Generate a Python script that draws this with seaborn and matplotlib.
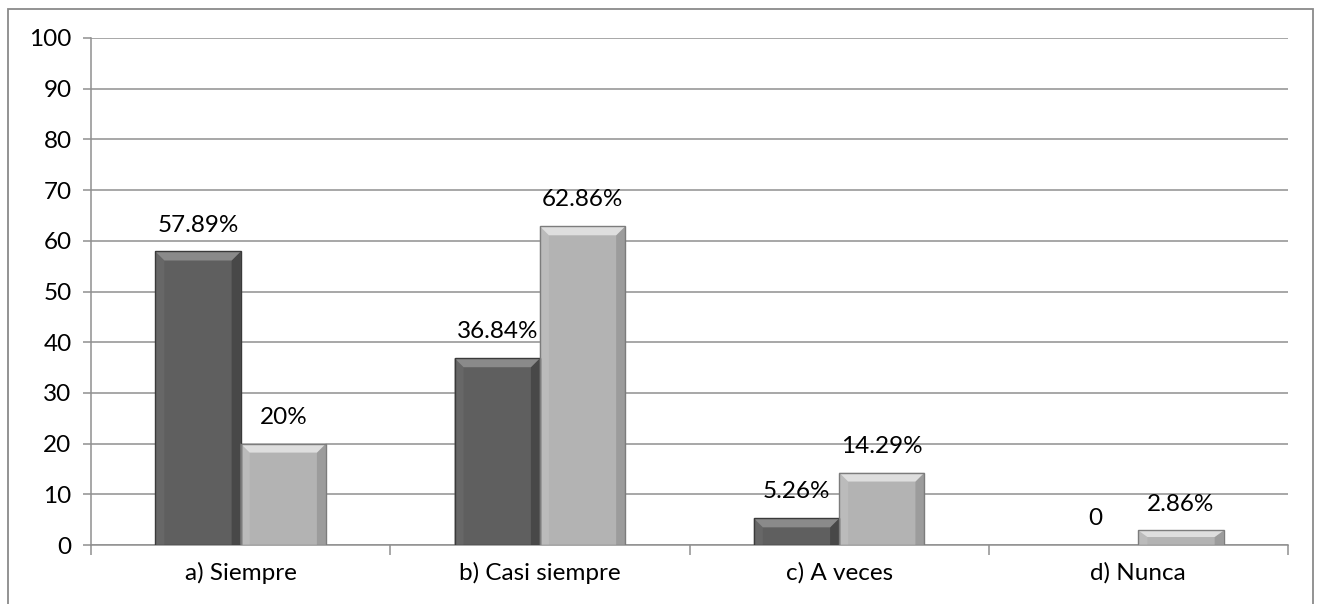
import matplotlib
matplotlib.use("Agg")
import matplotlib.pyplot as plt
from matplotlib.patches import Polygon, Rectangle
import seaborn as sns
import pandas as pd
import numpy as np

# ---- data ----
categories = ["a) Siempre", "b) Casi siempre", "c) A veces", "d) Nunca"]
series_names = ["Serie 1", "Serie 2"]
serie1 = [57.89, 36.84, 5.26, 0]
serie2 = [20, 62.86, 14.29, 2.86]
labels1 = ["57.89%", "36.84%", "5.26%", "0"]
labels2 = ["20%", "62.86%", "14.29%", "2.86%"]
yticks = [0, 10, 20, 30, 40, 50, 60, 70, 80, 90, 100]

df = pd.DataFrame({
    "cat": categories * 2,
    "serie": [series_names[0]] * 4 + [series_names[1]] * 4,
    "val": serie1 + serie2,
    "lab": labels1 + labels2,
})

sns.set_theme(style="white")
plt.rcParams["font.family"] = ["Lato", "DejaVu Sans"]

W, H = 1319, 604
fig = plt.figure(figsize=(W / 100, H / 100), dpi=100)
L, R, T, B = 91, 1288, 38, 545
ax = fig.add_axes([L / W, 1 - B / H, (R - L) / W, (B - T) / H])

colors = {"Serie 1": "#5f5f5f", "Serie 2": "#b3b3b3"}
edges = {"Serie 1": "#3a3a3a", "Serie 2": "#7c7c7c"}

sns.barplot(data=df, x="cat", y="val", hue="serie", order=categories,
            hue_order=series_names, palette=colors, width=0.57, gap=0,
            legend=False, ax=ax, zorder=3, saturation=1)

ax.set_xlim(-0.5, 3.5)
ax.set_ylim(0, 100)
ax.set_yticks(yticks)
ax.set_xlabel("")
ax.set_ylabel("")

FS = 17.5
grid_c = "#8f8f8f"
ax.yaxis.grid(True, color=grid_c, linewidth=1.1, zorder=0)
ax.xaxis.grid(False)
for s in ["top", "right"]:
    ax.spines[s].set_visible(False)
for s in ["left", "bottom"]:
    ax.spines[s].set_color(grid_c)
    ax.spines[s].set_linewidth(1.1)

ax.tick_params(axis="y", which="major", length=6, width=1.1, color=grid_c,
               labelsize=FS, labelcolor="black", pad=8, left=True)
ax.tick_params(axis="x", which="major", length=0, labelsize=FS,
               labelcolor="black", pad=12)
ax.set_xticks(np.arange(-0.5, 4.0, 1.0), minor=True)
ax.tick_params(axis="x", which="minor", length=7, width=1.1, color=grid_c,
               bottom=True)

# bevel look + value labels
px_x = 4.0 / (R - L)
px_y = 100.0 / (B - T)
bars = list(ax.patches)
all_labels = labels1 + labels2
hue_of = [series_names[0]] * 4 + [series_names[1]] * 4
for p, lab, hs in zip(bars, all_labels, hue_of):
    x0, y0 = p.get_x(), p.get_y()
    w, h = p.get_width(), p.get_height()
    x1, y1 = x0 + w, y0 + h
    p.set_edgecolor("none")
    p.set_linewidth(0)
    if h > 0:
        bx = 9 * px_x
        by = min(9 * px_y, h * 0.45)
        base = np.array(matplotlib.colors.to_rgb(colors[hs]))
        light = np.clip(base + 0.17, 0, 1)
        dark = np.clip(base - 0.09, 0, 1)
        lside = np.clip(base + 0.03, 0, 1)
        ax.add_patch(Polygon([(x0, y1), (x1, y1), (x1 - bx, y1 - by), (x0 + bx, y1 - by)],
                             closed=True, facecolor=light, edgecolor="none", zorder=3.5))
        ax.add_patch(Polygon([(x0, y0), (x0, y1), (x0 + bx, y1 - by), (x0 + bx, y0)],
                             closed=True, facecolor=lside, edgecolor="none", zorder=3.4))
        ax.add_patch(Polygon([(x1, y0), (x1, y1), (x1 - bx, y1 - by), (x1 - bx, y0)],
                             closed=True, facecolor=dark, edgecolor="none", zorder=3.4))
        ax.add_patch(Rectangle((x0, y0), w, h, facecolor="none",
                               edgecolor=edges[hs], linewidth=1.0, zorder=3.6))
    ax.annotate(lab, (x0 + w / 2, y1), xytext=(0, 19), textcoords="offset points",
                ha="center", va="center", fontsize=FS, color="black", zorder=5)

# outer frame
fig.add_artist(Rectangle((8 / W, -0.05), (1313 - 8) / W, 1 - 9 / H + 0.05,
                         transform=fig.transFigure, facecolor="none",
                         edgecolor="#8a8a8a", linewidth=1.3))

fig.savefig("out.png", dpi=100)
